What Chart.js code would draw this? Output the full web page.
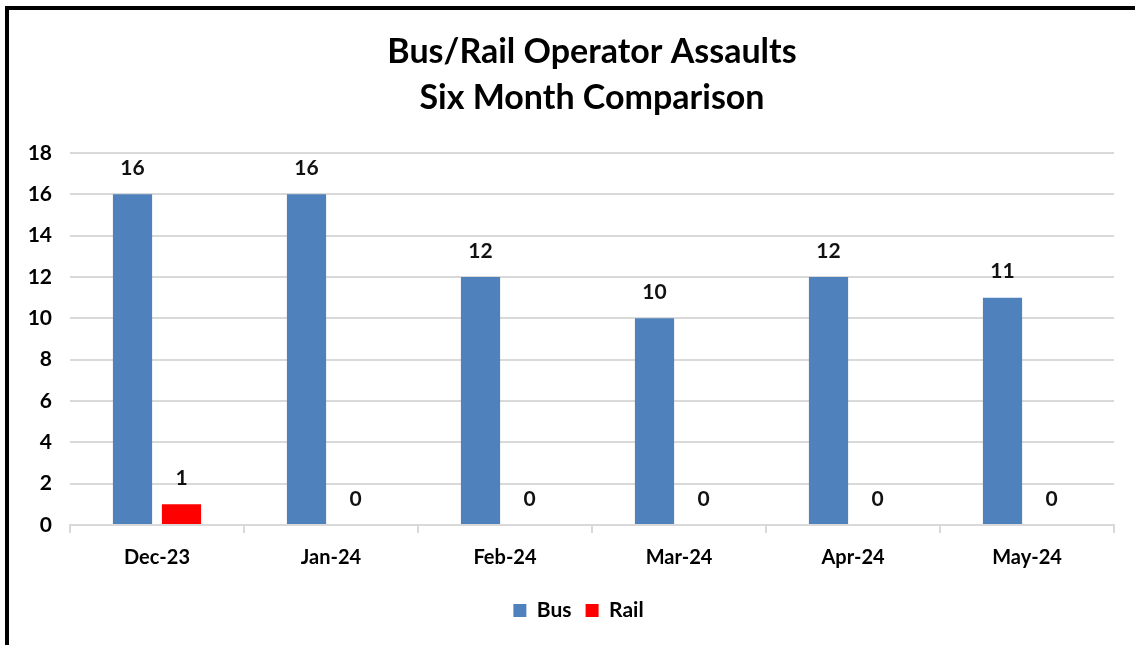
<!DOCTYPE html>
<html>
<head>
<meta charset="utf-8">
<script src="https://cdn.jsdelivr.net/npm/chart.js@4"></script>
<style>
    html, body { margin: 0; padding: 0; background: #fff; }
    #frame {
        position: absolute; left: 5px; top: 6px;
        width: 1126px; height: 635px;
        border-left: 4px solid #000; border-top: 4px solid #000;
        background: #fff;
    }
    #frame canvas { display: block; }
</style>
</head>
<body>
<div id="frame"><canvas id="chart" width="1126" height="635"></canvas></div>
<script>
// Data
const months = ['Dec-23', 'Jan-24', 'Feb-24', 'Mar-24', 'Apr-24', 'May-24'];
const busAssaults = [16, 16, 12, 10, 12, 11];
const railAssaults = [1, 0, 0, 0, 0, 0];
const titleLines = ['Bus/Rail Operator Assaults', 'Six Month Comparison'];

const FONT = 'Lato, "Liberation Sans", sans-serif';

// draws the value above each bar
const barValues = {
    id: 'barValues',
    afterDatasetsDraw(chart) {
        const ctx = chart.ctx;
        ctx.save();
        ctx.font = 'bold 21px ' + FONT;
        ctx.fillStyle = '#111';
        ctx.textAlign = 'center';
        ctx.textBaseline = 'middle';
        chart.data.datasets.forEach((ds, i) => {
            chart.getDatasetMeta(i).data.forEach((bar, j) => {
                ctx.fillText(ds.data[j], bar.x, bar.y - 26);
            });
        });
        ctx.restore();
    }
};

// title centred over the plot area, legend nudged right like the original
const centerBlocks = {
    id: 'centerBlocks',
    afterLayout(chart) {
        const area = chart.chartArea;
        if (chart.titleBlock) {
            chart.titleBlock.left = area.left;
            chart.titleBlock.right = area.right;
        }
        if (chart.legend) {
            chart.legend.left += 17;
            chart.legend.right += 17;
        }
    }
};

new Chart(document.getElementById('chart'), {
    type: 'bar',
    data: {
        labels: months,
        datasets: [
            { label: 'Bus', data: busAssaults, backgroundColor: '#4F81BD',
              categoryPercentage: 0.563, barPercentage: 0.8 },
            { label: 'Rail', data: railAssaults, backgroundColor: '#FF0000',
              categoryPercentage: 0.563, barPercentage: 0.8 }
        ]
    },
    options: {
        responsive: false,
        animation: false,
        layout: { padding: { left: 0, right: 21, top: 0, bottom: 14 } },
        plugins: {
            title: {
                display: true,
                text: titleLines,
                color: '#000',
                font: { family: FONT, size: 34, weight: 'bold', lineHeight: 1.353 },
                padding: { top: 19, bottom: 32 }
            },
            legend: {
                position: 'bottom',
                labels: {
                    boxWidth: 13, boxHeight: 13,
                    color: '#000',
                    font: { family: FONT, size: 21, weight: 'bold' },
                    padding: 14
                }
            },
            tooltip: { enabled: false }
        },
        scales: {
            x: {
                grid: { offset: true, drawOnChartArea: false, color: '#d9d9d9', lineWidth: 2, tickLength: 8 },
                border: { color: '#d9d9d9', width: 2 },
                ticks: { color: '#000', font: { family: FONT, size: 20, weight: 'bold' }, padding: 13 },
                afterFit(scale) { scale.height = 61; }
            },
            y: {
                min: 0, max: 18,
                ticks: { stepSize: 2, color: '#000', font: { family: FONT, size: 21, weight: 'bold' }, padding: 18 },
                grid: { color: '#d9d9d9', lineWidth: 2, drawTicks: false },
                border: { display: false },
                afterFit(scale) { scale.width = 61; }
            }
        }
    },
    plugins: [barValues, centerBlocks]
});
</script>
</body>
</html>
